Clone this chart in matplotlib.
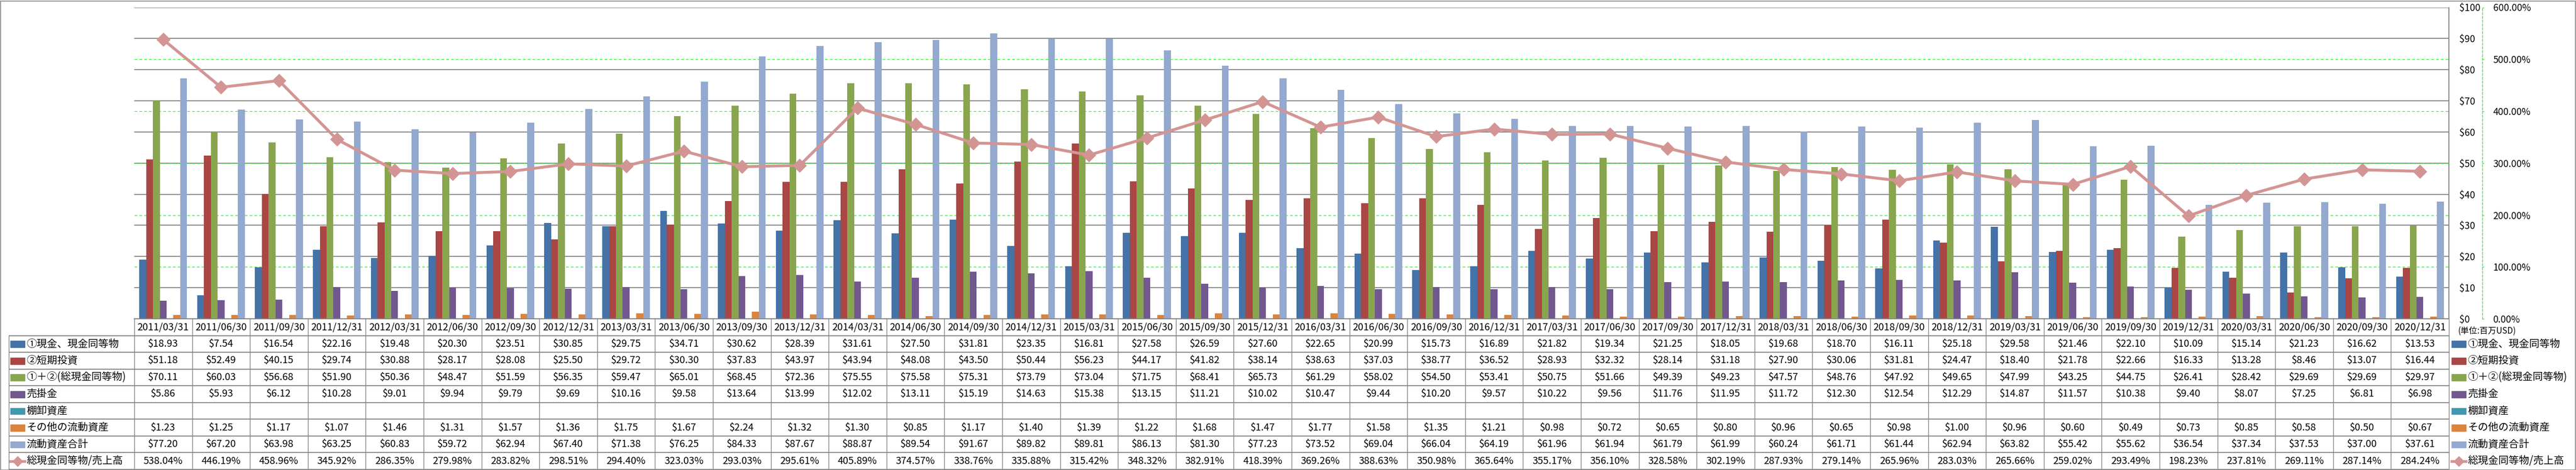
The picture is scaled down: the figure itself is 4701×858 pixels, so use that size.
import numpy as np
import matplotlib
matplotlib.use('Agg')
from matplotlib import pyplot as plt
from matplotlib import patches as pat
from matplotlib import transforms as mtrans
from matplotlib.lines import Line2D

plt.rcParams['font.family'] = ['Noto Sans CJK JP', 'DejaVu Sans']

# 期間
dates = ['2011/03/31', '2011/06/30', '2011/09/30', '2011/12/31',
         '2012/03/31', '2012/06/30', '2012/09/30', '2012/12/31',
         '2013/03/31', '2013/06/30', '2013/09/30', '2013/12/31',
         '2014/03/31', '2014/06/30', '2014/09/30', '2014/12/31',
         '2015/03/31', '2015/06/30', '2015/09/30', '2015/12/31',
         '2016/03/31', '2016/06/30', '2016/09/30', '2016/12/31',
         '2017/03/31', '2017/06/30', '2017/09/30', '2017/12/31',
         '2018/03/31', '2018/06/30', '2018/09/30', '2018/12/31',
         '2019/03/31', '2019/06/30', '2019/09/30', '2019/12/31',
         '2020/03/31', '2020/06/30', '2020/09/30', '2020/12/31']

# 単位: 百万USD
cash = [18.93, 7.54, 16.54, 22.16, 19.48, 20.30, 23.51, 30.85, 29.75,
        34.71, 30.62, 28.39, 31.61, 27.50, 31.81, 23.35, 16.81, 27.58, 26.59, 27.60,
        22.65, 20.99, 15.73, 16.89, 21.82, 19.34, 21.25, 18.05, 19.68, 18.70, 16.11,
        25.18, 29.58, 21.46, 22.10, 10.09, 15.14, 21.23, 16.62, 13.53]
short_inv = [51.18, 52.49, 40.15, 29.74, 30.88, 28.17, 28.08, 25.50, 29.72,
             30.30, 37.83, 43.97, 43.94, 48.08, 43.50, 50.44, 56.23, 44.17, 41.82, 38.14,
             38.63, 37.03, 38.77, 36.52, 28.93, 32.32, 28.14, 31.18, 27.90, 30.06, 31.81,
             24.47, 18.40, 21.78, 22.66, 16.33, 13.28, 8.46, 13.07, 16.44]
total_cash = [70.11, 60.03, 56.68, 51.90, 50.36, 48.47, 51.59, 56.35, 59.47,
              65.01, 68.45, 72.36, 75.55, 75.58, 75.31, 73.79, 73.04, 71.75, 68.41, 65.73,
              61.29, 58.02, 54.50, 53.41, 50.75, 51.66, 49.39, 49.23, 47.57, 48.76, 47.92,
              49.65, 47.99, 43.25, 44.75, 26.41, 28.42, 29.69, 29.69, 29.97]
receivable = [5.86, 5.93, 6.12, 10.28, 9.01, 9.94, 9.79, 9.69, 10.16,
              9.58, 13.64, 13.99, 12.02, 13.11, 15.19, 14.63, 15.38, 13.15, 11.21, 10.02,
              10.47, 9.44, 10.20, 9.57, 10.22, 9.56, 11.76, 11.95, 11.72, 12.30, 12.54,
              12.29, 14.87, 11.57, 10.38, 9.40, 8.07, 7.25, 6.81, 6.98]
inventory = [None] * 40
other_cur = [1.23, 1.25, 1.17, 1.07, 1.46, 1.31, 1.57, 1.36, 1.75,
             1.67, 2.24, 1.32, 1.30, 0.85, 1.17, 1.40, 1.39, 1.22, 1.68, 1.47,
             1.77, 1.58, 1.35, 1.21, 0.98, 0.72, 0.65, 0.80, 0.96, 0.65, 0.98,
             1.00, 0.96, 0.60, 0.49, 0.73, 0.85, 0.58, 0.50, 0.67]
cur_total = [77.20, 67.20, 63.98, 63.25, 60.83, 59.72, 62.94, 67.40, 71.38,
             76.25, 84.33, 87.67, 88.87, 89.54, 91.67, 89.82, 89.81, 86.13, 81.30, 77.23,
             73.52, 69.04, 66.04, 64.19, 61.96, 61.94, 61.79, 61.99, 60.24, 61.71, 61.44,
             62.94, 63.82, 55.42, 55.62, 36.54, 37.34, 37.53, 37.00, 37.61]
# 総現金同等物/売上高 (%)
ratio = [538.04, 446.19, 458.96, 345.92, 286.35, 279.98, 283.82, 298.51, 294.40,
         323.03, 293.03, 295.61, 405.89, 374.57, 338.76, 335.88, 315.42, 348.32, 382.91, 418.39,
         369.26, 388.63, 350.98, 365.64, 355.17, 356.10, 328.58, 302.19, 287.93, 279.14, 265.96,
         283.03, 265.66, 259.02, 293.49, 198.23, 237.81, 269.11, 287.14, 284.24]

bar_names = ['①現金、現金同等物', '②短期投資', '①＋②(総現金同等物)', '売掛金',
             '棚卸資産', 'その他の流動資産', '流動資産合計']
bar_series = [cash, short_inv, total_cash, receivable, inventory, other_cur, cur_total]
bar_colors = ['#4572A7', '#AA4643', '#89A54E', '#71588F', '#4198AF', '#DB843D', '#93A9CF']
line_name = '総現金同等物/売上高'
line_color = '#D39594'
grid_gray = '#878787'
green = '#33F033'

W, H = 4701, 858
fig = plt.figure(figsize=(W / 100, H / 100), dpi=100)

# 枠
fig.patches.append(pat.Rectangle((0.5 / W, 0.5 / H), 1 - 2 / W, 1 - 2 / H, transform=fig.transFigure,
                                 fill=False, ec='#8c8c8c', lw=1.2))

px_l, px_r, px_t, px_b = 245, 4469, 13.5, 582
ax = fig.add_axes([px_l / W, 1 - px_b / H, (px_r - px_l) / W, (px_b - px_t) / H])
ax2 = ax.twinx()

x = np.arange(len(dates))
n = len(bar_series)
bw = 0.1177
for k, (vals, col) in enumerate(zip(bar_series, bar_colors)):
    if all(v is None for v in vals):
        continue
    ax.bar(x + (k - (n - 1) / 2) * bw, vals, width=bw, color=col, zorder=2)

ax.set_xlim(-0.5, len(dates) - 0.5)
ax.set_ylim(0, 100)
ax.set_yticks(np.arange(0, 101, 10))
ax.yaxis.set_major_formatter(matplotlib.ticker.StrMethodFormatter('${x:.0f}'))
ax.yaxis.tick_right()
ax.tick_params(axis='y', length=0, pad=13.7, labelsize=12.5)
ax.set_xticks([])
ax.grid(axis='y', color=grid_gray, lw=1.3, zorder=0.5)
ax.set_axisbelow(True)
for s in ['top', 'left']:
    ax.spines[s].set_visible(False)
for s in ['right', 'bottom']:
    ax.spines[s].set_color(grid_gray)
    ax.spines[s].set_linewidth(1.3)

# 第2軸
ax2.set_ylim(0, 600)
pct_ticks = np.arange(0, 601, 100)
ax2.set_yticks(pct_ticks)
ax2.yaxis.set_major_formatter(matplotlib.ticker.StrMethodFormatter('{x:.2f}%'))
for s in ['top', 'left', 'bottom']:
    ax2.spines[s].set_visible(False)
ax2.spines['right'].set_position(('outward', 44))
ax2.spines['right'].set_color(green)
ax2.spines['right'].set_linestyle((0, (3, 2)))
ax2.spines['right'].set_linewidth(1.0)
ax2.tick_params(axis='y', color=green, length=2.5, width=1.0, pad=11.5, labelsize=12.5)

# 第2軸の目盛線 (棒の後ろ)
blend = mtrans.blended_transform_factory(ax.transAxes, ax2.transData)
for t in pct_ticks[1:-1]:
    ax.add_line(Line2D([0, 1], [t, t], transform=blend, color=green, lw=0.9,
                       ls=(0, (4, 3)), zorder=0.7))

ax2.plot(x, ratio, color=line_color, lw=3.8, marker='D', ms=12.5,
         mfc=line_color, mec=line_color, zorder=3)

ax2.text(1 + 17 / (px_r - px_l), -22 / (px_b - px_t), '(単位:百万USD)', transform=ax.transAxes,
         ha='left', va='center', fontsize=11)

# データテーブル
tb_t, tb_b = 582, 857
tax = fig.add_axes([px_l / W, 1 - tb_b / H, (px_r - px_l) / W, (tb_b - tb_t) / H])
tax.set_xlim(-0.5, len(dates) - 0.5)
tax.set_ylim(9, 0)
tax.axis('off')
colw = (px_r - px_l) / len(dates)
lab_l = -0.5 - (px_l - 16) / colw

tax.hlines(np.arange(1, 10), lab_l, len(dates) - 0.5, color=grid_gray, lw=1.3, clip_on=False)
tax.vlines(np.arange(-0.5, len(dates)), 0, 9, color=grid_gray, lw=1.0, clip_on=False)
tax.vlines(lab_l, 1, 9, color=grid_gray, lw=1.0, clip_on=False)

for i, d in enumerate(dates):
    tax.text(i, 0.5, d, ha='center', va='center', fontsize=13)

for r, vals in enumerate(bar_series, start=1):
    for i, v in enumerate(vals):
        if v is None:
            continue
        tax.text(i, r + 0.5, f'${v:.2f}', ha='center', va='center', fontsize=13)
for i, v in enumerate(ratio):
    tax.text(i, 8.5, f'{v:.2f}%', ha='center', va='center', fontsize=13)


def legend_entry(x0, row, name, color, is_line=False):
    sw = 26 / colw
    if is_line:
        tax.add_line(Line2D([x0, x0 + sw], [row + 0.5, row + 0.5], color=color, lw=3.5,
                            clip_on=False))
        tax.add_line(Line2D([x0 + sw / 2], [row + 0.5], color=color, marker='D', ms=9,
                            clip_on=False))
    else:
        tax.add_patch(pat.Rectangle((x0, row + 0.32), sw, 0.38, color=color, clip_on=False))
    tax.text(x0 + 29 / colw, row + 0.5, name, ha='left', va='center', fontsize=13.5,
             clip_on=False)


for r, (nm, col) in enumerate(zip(bar_names, bar_colors), start=1):
    legend_entry(lab_l + 3 / colw, r, nm, col)
    legend_entry(len(dates) - 0.5 + 5 / colw, r, nm, col)
legend_entry(lab_l + 3 / colw, 8, line_name, line_color, True)
legend_entry(len(dates) - 0.5 + 5 / colw, 8, line_name, line_color, True)

fig.savefig('out.png', dpi=100)
